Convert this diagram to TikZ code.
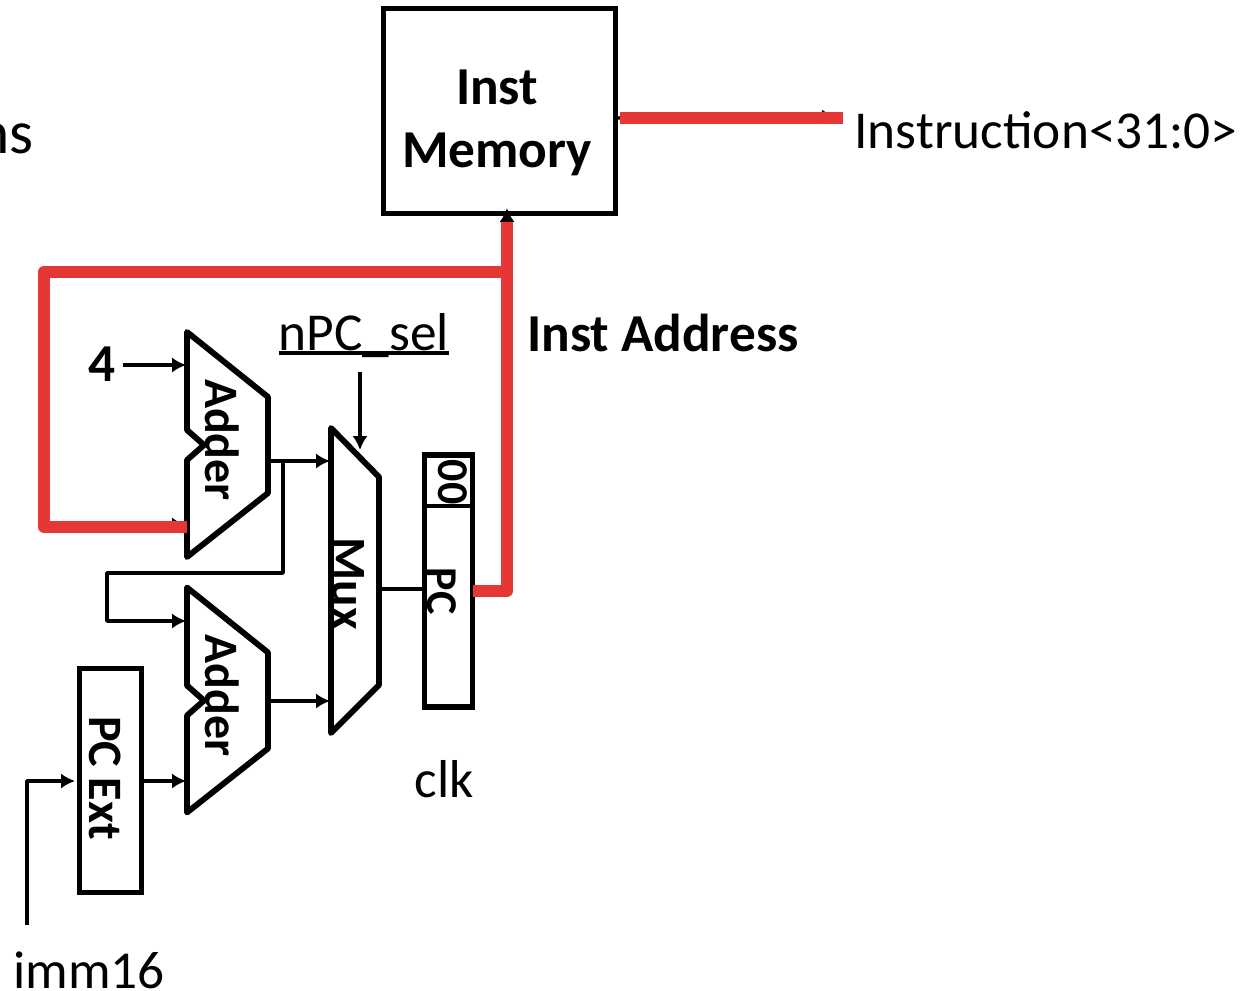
\documentclass[tikz,border=0pt]{standalone}
\usepackage{xcolor}
\usepackage{fontspec}
\usetikzlibrary{arrows.meta}
\setmainfont{Carlito}
\definecolor{busred}{RGB}{230, 55, 55}

\begin{document}
\begin{tikzpicture}[x=0.75pt, y=-0.75pt]
    % Define styles
    \tikzstyle{block} = [rectangle, draw, line width=3.8pt, inner sep=0pt]
    \tikzstyle{unit} = [draw, line width=4.4pt, line join=round]
    \tikzstyle{line} = [draw, line width=2.6pt, line join=round, -{Latex[length=10.5pt,width=11.5pt]}]
    \tikzstyle{wire} = [draw, line width=2.6pt, line join=round]
    \tikzstyle{bus} = [draw=busred, line width=9pt, line join=round]
    \tikzstyle{label} = [font=\fontsize{40}{40}\selectfont, inner sep=0pt, anchor=base]
    \tikzstyle{tag} = [font=\bfseries\fontsize{40}{40}\selectfont, inner sep=0pt]
    \tikzstyle{side} = [font=\bfseries\fontsize{36}{36}\selectfont, inner sep=0pt, rotate=-90]

    \useasboundingbox (0,0) rectangle (1257,991);
    \clip (0,0) rectangle (1257,991);

    % Nodes
    \node [block, minimum width=174pt, minimum height=154pt] (mem) at (499.5,111) {};
    \node [tag, align=center] (memtext) at (497,123) {Inst\\[7pt]Memory};
    \node [block, minimum width=36pt, minimum height=189pt] (pc) at (448.5,581) {};
    \node [block, minimum width=47pt, minimum height=168pt] (ext) at (110.5,780.5) {};
    \node [side] (exttext) at (105,778) {PC Ext};
    \node [side, font=\bfseries\fontsize{33}{33}\selectfont] (pctext) at (442,591) {PC};
    \node [side, font=\bfseries\fontsize{33}{33}\selectfont] (zeros) at (453,482) {00};
    \node [tag] (four) at (102,364) {4};
    \node [tag] (addr) at (663,333) {Inst Address};
    \node [label] (instr) at (1046,149) {Instruction<31:0>};
    \node [label] (sel) at (364,350) {nPC\_sel};
    \node [label] (clk) at (444,797) {clk};
    \node [label] (imm) at (89,988) {imm16};
    \node [label, anchor=base east, font=\fontsize{46}{46}\selectfont] (cut) at (34,154) {ns};

    % Adders and mux
    \foreach \name/\dy in {addera/0, adderb/255.5} {
        \begin{scope}[yshift=-0.75pt*\dy]
            \draw [unit] (187,332) -- (268,397) -- (268,493) -- (187,557) -- (187,460) -- (204,445) -- (187,430) -- cycle;
            \node [side] (\name) at (222,440) {Adder};
        \end{scope}
    }
    \draw [unit] (331,428) -- (379,477) -- (379,685) -- (331,733) -- cycle;
    \node [side, font=\bfseries\fontsize{37}{37}\selectfont] (mux) at (348,584) {Mux};

    % Ports
    \coordinate (fourin) at (186,365);
    \coordinate (addin) at (186,525);
    \coordinate (addbin) at (186,621);
    \coordinate (extin) at (186,781);
    \coordinate (outa) at (268,461);
    \coordinate (outb) at (268,701);
    \coordinate (muxa) at (330,461);
    \coordinate (muxb) at (330,701);
    \coordinate (muxsel) at (360,450);
    \coordinate (muxout) at (379,589);
    \coordinate (pcin) at (424,589);
    \coordinate (pcout) at (473,591);
    \coordinate (memin) at (507,208);
    \coordinate (memout) at (616,118);
    \coordinate (instrtip) at (836,117);
    \coordinate (instrout) at (843,118);
    \coordinate (immin) at (27,925);
    \coordinate (extleft) at (75,781);
    \coordinate (extright) at (142,781);

    % Connections
    \path [wire] (pc.west |- 0,506) -- (pc.east |- 0,506);
    \path [wire] (sel.west |- 0,353) -- (sel.east |- 0,353);
    \path [line] (123,365) -- (fourin);
    \path [line] (outa) -- (muxa);
    \path [line] (outb) -- (muxb);
    \path [line] (283,461) -- (283,573) -- (107,573) -- (107,621) -- (addbin);
    \path [line] (360,372) -- (muxsel);
    \path [wire] (muxout) -- (pcin);
    \path [line] (extright) -- (extin);
    \path [line] (immin) -- (27,781) -- (extleft);
    \path [line] (44,525) -- (addin);
    \path [line] (memout) -- (instrtip);
    \path [line] (507,300) -- (memin);

    % Red buses
    \path [bus] (187,527) -- (44,527) -- (44,272) -- (507,272);
    \path [bus] (pcout) -- (507,591) -- (507,222);
    \path [bus] (620,118) -- (instrout);
\end{tikzpicture}
\end{document}
